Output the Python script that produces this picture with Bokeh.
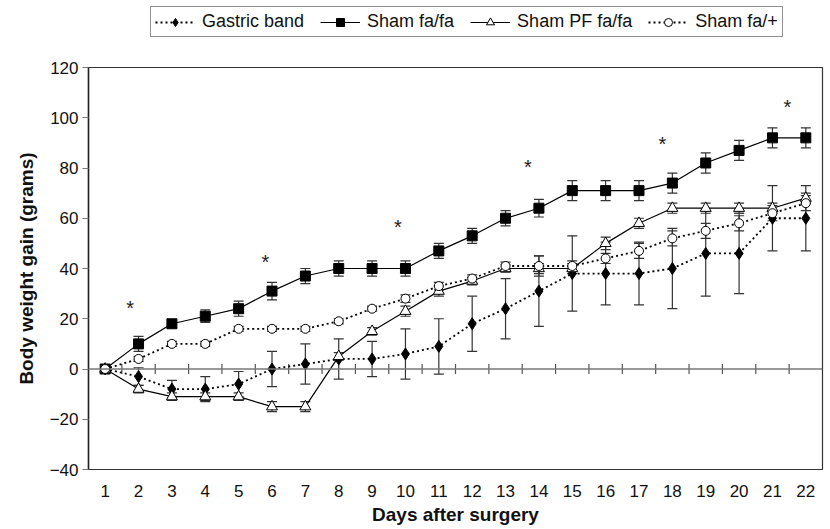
import numpy as np
from bokeh.plotting import figure
from bokeh.layouts import column
from bokeh.models import (Range1d, FixedTicker, Span, Whisker, TeeHead, ColumnDataSource,
                          Legend, LegendItem)
from bokeh.core.properties import value
from bokeh.embed import file_html
from bokeh.resources import INLINE

FONT = "Liberation Sans"

days = list(range(1, 23))
gastric_band = [0, -3, -8, -8, -6, 0, 2, 4, 4, 6, 9, 18, 24, 31, 38, 38, 38, 40, 46, 46, 60, 60]
gastric_band_err = [0, 3.5, 3.5, 5, 5, 7, 8, 8, 7, 10, 11, 11, 12, 14, 15, 12.5, 12.5, 16, 17, 16, 13, 13]
sham_fafa = [0, 10, 18, 21, 24, 31, 37, 40, 40, 40, 47, 53, 60, 64, 71, 71, 71, 74, 82, 87, 92, 92]
sham_fafa_err = [0, 3, 1.5, 2.5, 3, 3.5, 3, 3, 3, 3, 3, 3, 3, 3.5, 4, 4, 4, 4, 4, 4, 4, 4]
sham_pf_fafa = [0, -8, -11, -11, -11, -15, -15, 5, 15, 23, 31, 35, 40, 40, 40, 50, 58, 64, 64, 64, 64, 68]
sham_pf_fafa_err = [0, 1.5, 1.5, 1.5, 1.5, 2, 2, 1.5, 1.5, 2, 2, 1.5, 1.5, 2, 2, 2.5, 2, 2, 2, 2, 2, 2]
sham_fa_plus = [0, 4, 10, 10, 16, 16, 16, 19, 24, 28, 33, 36, 41, 41, 41, 44, 47, 52, 55, 58, 62, 66]
sham_fa_plus_err = [0, 1, 1, 1, 1, 1, 1, 1, 1, 1.5, 1.5, 1.5, 1.5, 4, 2, 2, 3, 3, 3, 3, 3, 3]

star_x = [1.75, 5.8, 9.77, 13.67, 17.7, 21.45]
star_y = [26, 44, 58, 82, 91, 106]

y_ticks = [-40, -20, 0, 20, 40, 60, 80, 100, 120]
x_title = "Days after surgery"
y_title = "Body weight gain (grams)"

LEG_H = 40

p = figure(width=828, height=528 - LEG_H, output_backend="svg", toolbar_location=None,
           x_range=Range1d(0.5, 22.5), y_range=Range1d(y_ticks[0], y_ticks[-1]),
           min_border_left=88, min_border_right=6, min_border_top=67 - LEG_H, min_border_bottom=59)
p.xgrid.visible = False
p.ygrid.visible = False
p.outline_line_color = "#333333"
p.outline_line_width = 1.2
p.background_fill_color = "white"
p.border_fill_color = "white"

# x axis (labels only, at bottom)
p.xaxis.ticker = FixedTicker(ticks=days)
p.xaxis.axis_line_color = None
p.xaxis.major_tick_line_color = None
p.xaxis.minor_tick_line_color = None
p.xaxis.major_label_standoff = 9
p.xaxis.major_label_text_font = FONT
p.xaxis.major_label_text_font_size = "17px"
p.xaxis.major_label_text_color = "#111111"
p.xaxis.axis_label = x_title
p.xaxis.axis_label_text_font = FONT
p.xaxis.axis_label_text_font_size = "19px"
p.xaxis.axis_label_text_font_style = "bold"
p.xaxis.axis_label_standoff = 4
p.xaxis.axis_label_text_color = "#111111"

# y axis
p.yaxis.ticker = FixedTicker(ticks=y_ticks)
p.yaxis.axis_line_color = "#222222"
p.yaxis.axis_line_width = 1.5
p.yaxis.major_tick_out = 6
p.yaxis.major_tick_in = 0
p.yaxis.major_tick_line_color = "#777777"
p.yaxis.minor_tick_line_color = None
p.yaxis.major_label_standoff = 4
p.yaxis.major_label_text_font = FONT
p.yaxis.major_label_text_font_size = "17px"
p.yaxis.major_label_text_color = "#111111"
p.yaxis.axis_label = y_title
p.yaxis.axis_label_text_font = FONT
p.yaxis.axis_label_text_font_size = "19px"
p.yaxis.axis_label_text_font_style = "bold"
p.yaxis.axis_label_standoff = 10
p.yaxis.axis_label_text_color = "#111111"

# zero line with category-boundary cross ticks
p.add_layout(Span(location=0, dimension="width", line_color="#777777", line_width=1.5))
bounds = [d + 0.5 for d in days[:-1]]
p.scatter(x=bounds, y=[0] * len(bounds), marker="dash", angle=np.pi / 2, size=10,
          line_color="#555555", line_width=1.2)

series = [
    ("Gastric band", gastric_band, gastric_band_err, "2 3", 1.8, "diamond", 12, "black"),
    ("Sham fa/fa", sham_fafa, sham_fafa_err, "solid", 1.2, "square", 10, "black"),
    ("Sham PF fa/fa", sham_pf_fafa, sham_pf_fafa_err, "solid", 1.2, "triangle", 11, "white"),
    ("Sham fa/+", sham_fa_plus, sham_fa_plus_err, "2 3", 1.8, "circle", 9, "white"),
]

# separate strip holding the legend (above the plot frame); its ranges keep the
# proxy renderers' data out of view so only their legend swatches show
lg = figure(width=828, height=LEG_H, output_backend="svg", toolbar_location=None,
            x_range=Range1d(-20, -19), y_range=Range1d(-500, -499),
            min_border_left=88, min_border_right=6, min_border_top=0, min_border_bottom=0)
lg.axis.visible = False
lg.xgrid.visible = False
lg.ygrid.visible = False
lg.outline_line_color = None

items = []
for name, vals, errs, dash, lw, marker, size, fill in series:
    v = np.array(vals, dtype=float)
    e = np.array(errs, dtype=float)
    src = ColumnDataSource(dict(x=days, y=v, upper=v + e, lower=v - e))
    w = Whisker(base="x", upper="upper", lower="lower", source=src, dimension="height",
                line_color="#333333", line_width=1.2,
                upper_head=TeeHead(size=10, line_color="#333333", line_width=1.2),
                lower_head=TeeHead(size=10, line_color="#333333", line_width=1.2))
    p.add_layout(w)
    p.line("x", "y", source=src, line_color="black", line_width=lw, line_dash=dash)
    p.scatter("x", "y", source=src, marker=marker, size=size, fill_color=fill,
              line_color="black", line_width=1.0)
    ln = lg.line("x", "y", source=src, line_color="black", line_width=lw, line_dash=dash)
    sc = lg.scatter("x", "y", source=src, marker=marker, size=size, fill_color=fill,
                    line_color="black", line_width=1.0)
    items.append(LegendItem(label=name, renderers=[ln, sc]))

p.text(x=star_x, y=star_y, text=["*"] * len(star_x), text_font=value(FONT),
       text_font_size="20px", text_align="center", text_baseline="middle",
       text_color="#222222", y_offset=4)

legend = Legend(items=items, orientation="horizontal", location=(62, LEG_H - 37),
                border_line_color="#222222", border_line_width=1,
                label_text_font=FONT, label_text_font_size="18px", label_text_color="#111111",
                glyph_width=40, glyph_height=20, label_height=20, label_standoff=7,
                spacing=16, padding=4, margin=0, background_fill_alpha=1.0)
lg.add_layout(legend, "center")

layout = column(lg, p, spacing=0)
open("out.html", "w").write(file_html(layout, INLINE))
